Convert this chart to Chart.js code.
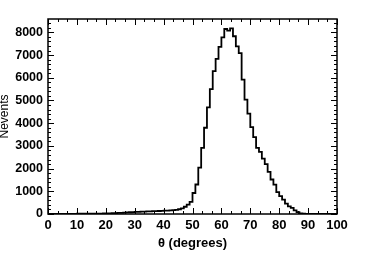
<!DOCTYPE html>
<html>
<head>
<meta charset="utf-8">
<script src="https://cdn.jsdelivr.net/npm/chart.js@4.4.1/dist/chart.umd.min.js"></script>
<style>
  html, body { margin: 0; padding: 0; background: #fff; }
  #wrap { width: 374px; height: 253px; position: relative; }
</style>
</head>
<body>
<div id="wrap"><canvas id="myChart"></canvas></div>
<script>
// bin left edges (1 degree bins, 0..99)
const binEdges = Array.from({ length: 101 }, (_, i) => i);

// counts per bin
const counts = [
    6, 6, 6, 6, 7, 7, 8, 8, 9, 9,
    10, 11, 12, 13, 14, 15, 17, 18, 20, 23,
    26, 30, 35, 40, 46, 53, 60, 68, 76, 85,
    92, 98, 103, 108, 113, 118, 123, 128, 133, 140,
    146, 152, 160, 168, 180, 210, 250, 320, 410, 530,
    925, 1300, 2040, 2910, 3800, 4700, 5500, 6290, 6830, 7360,
    7780, 8150, 8075, 8180, 7830, 7380, 7090, 5920, 5035, 4420,
    3830, 3390, 2910, 2740, 2440, 2200, 1860, 1520, 1290, 960,
    790, 630, 460, 340, 270, 160, 80, 30, 10, 4,
    2, 1, 0, 0, 0, 0, 0, 0, 0, 0
];

const xTickLabels = [0, 10, 20, 30, 40, 50, 60, 70, 80, 90, 100];
const yTickLabels = [0, 1000, 2000, 3000, 4000, 5000, 6000, 7000, 8000];

const yMax = 8590;
const fontFamily = '"Liberation Sans", Arial, Helvetica, sans-serif';

// histogram points: value held from the left edge to the next edge
const points = binEdges.map((x, i) => ({ x: x, y: counts[Math.min(i, counts.length - 1)] }));

// frame + inward ticks on all four sides (ROOT style)
const frameTicks = {
    id: 'frameTicks',
    afterDatasetsDraw(chart) {
        const { ctx, chartArea: a, scales } = chart;
        const xs = scales.x, ys = scales.y;
        ctx.save();
        ctx.strokeStyle = '#000';
        ctx.lineWidth = 1;
        ctx.beginPath();
        for (let v = 0; v <= yMax; v += 200) {
            const py = Math.round(ys.getPixelForValue(v)) + 0.5;
            const len = v % 1000 === 0 ? 6 : 3;
            ctx.moveTo(a.left, py); ctx.lineTo(a.left + len, py);
            ctx.moveTo(a.right, py); ctx.lineTo(a.right - len, py);
        }
        for (let k = 0; k <= 30; k++) {
            const v = k * 10 / 3;
            const px = Math.round(xs.getPixelForValue(v)) + 0.5;
            const len = k % 3 === 0 ? 6 : 3;
            ctx.moveTo(px, a.bottom); ctx.lineTo(px, a.bottom - len);
            ctx.moveTo(px, a.top); ctx.lineTo(px, a.top + len);
        }
        ctx.stroke();
        ctx.lineWidth = 1.5;
        ctx.strokeRect(a.left, a.top, a.right - a.left, a.bottom - a.top);
        ctx.restore();
    }
};

const config = {
    type: 'line',
    data: {
        datasets: [{
            data: points,
            stepped: 'before',
            borderColor: '#000',
            borderWidth: 1.8,
            pointRadius: 0,
            fill: false
        }]
    },
    options: {
        responsive: true,
        maintainAspectRatio: false,
        animation: false,
        layout: { padding: { top: 19, right: 37, left: 0, bottom: 0 } },
        plugins: { legend: { display: false }, tooltip: { enabled: false } },
        scales: {
            x: {
                type: 'linear',
                min: 0,
                max: 100,
                afterBuildTicks: s => { s.ticks = xTickLabels.map(v => ({ value: v })); },
                afterFit: s => { s.height = 39; },
                ticks: {
                    color: '#000',
                    padding: 4,
                    maxRotation: 0,
                    callback: v => String(v),
                    font: { family: fontFamily, size: 13, weight: 'bold' }
                },
                grid: { display: false, drawTicks: false },
                border: { display: false },
                title: {
                    display: true,
                    text: 'θ (degrees)',
                    color: '#000',
                    padding: { top: 0, bottom: 2 },
                    font: { family: fontFamily, size: 13, weight: 'bold' }
                }
            },
            y: {
                type: 'linear',
                min: 0,
                max: yMax,
                afterBuildTicks: s => { s.ticks = yTickLabels.map(v => ({ value: v })); },
                afterFit: s => { s.width = 48; },
                ticks: {
                    color: '#000',
                    padding: 5,
                    callback: v => String(v),
                    font: { family: fontFamily, size: 12.5, weight: 'bold' }
                },
                grid: { display: false, drawTicks: false },
                border: { display: false },
                title: {
                    display: true,
                    text: 'Nevents',
                    color: '#000',
                    padding: 0,
                    font: { family: fontFamily, size: 12, lineHeight: 0.7 }
                }
            }
        }
    },
    plugins: [frameTicks]
};

new Chart(document.getElementById('myChart'), config);
</script>
</body>
</html>
